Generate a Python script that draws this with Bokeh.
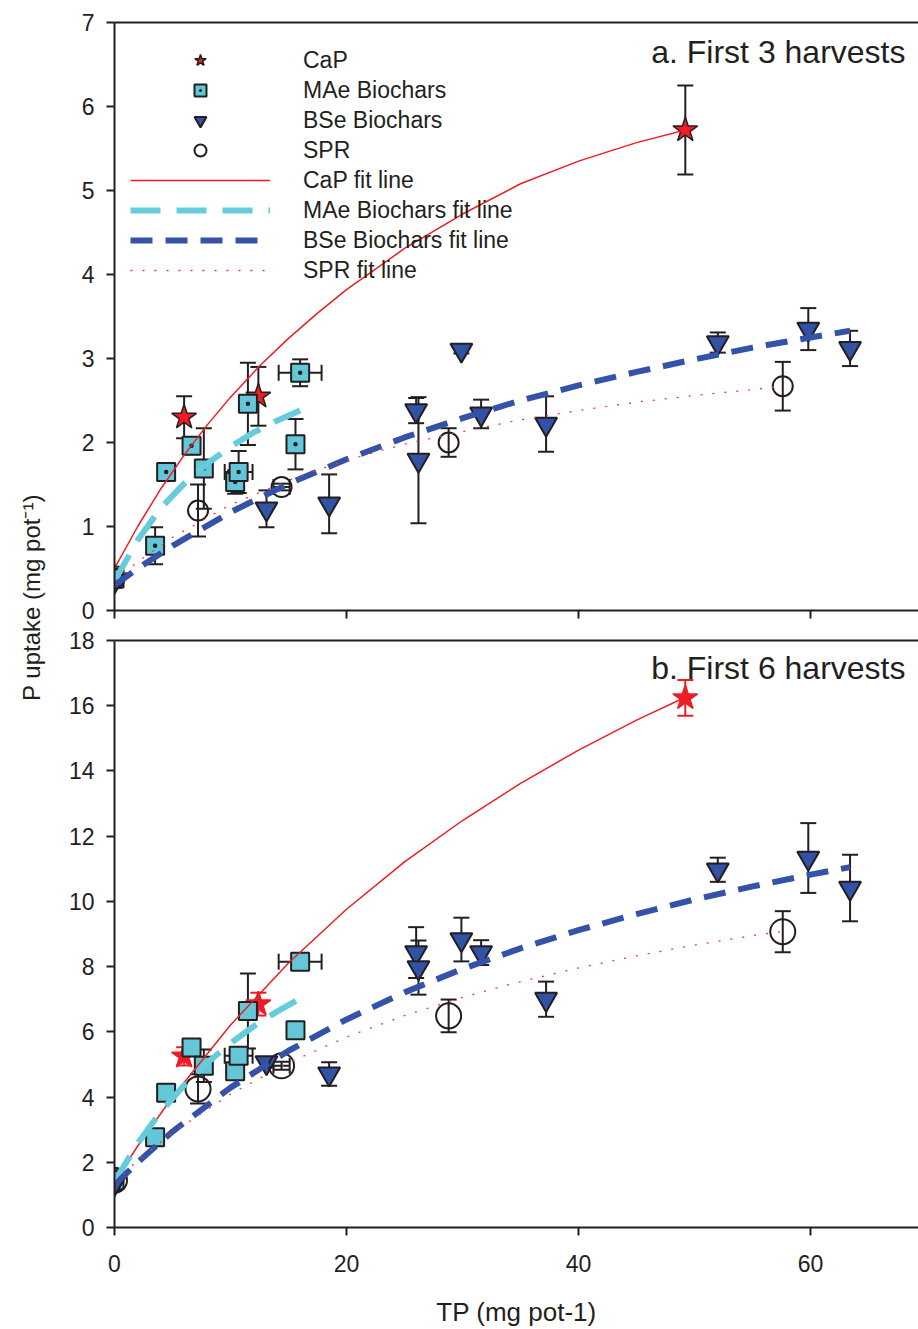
import math
from bokeh.plotting import figure
from bokeh.models import (ColumnDataSource, Whisker, TeeHead, Legend, LegendItem, Label,
                          LinearAxis, FixedTicker, Range1d)
from bokeh.layouts import row, column
from bokeh.embed import file_html
from bokeh.resources import INLINE

FONT = "Liberation Sans"
INK = "#231F20"
RED = "#EE1D25"
CYAN_FILL = "#63C7D8"
BLUE_FILL = "#3152A6"
CYAN_LINE = "#66CCDD"
BLUE_LINE = "#3352A8"

# ---------------- data: panel a (first 3 harvests) ----------------
cap_x = [0, 6.0, 12.4, 49.2]
mae_x = [0, 3.5, 4.45, 6.64, 7.7, 10.4, 10.7, 11.5, 15.6, 16.0]
mae_xerr = [0, 0, 0, 0, 0, 0, 1.2, 0, 0, 1.85]
bse_x = [0, 13.1, 18.5, 26.0, 26.2, 29.9, 31.6, 37.2, 52.0, 59.8, 63.4]
spr_x = [0, 7.2, 14.4, 28.8, 57.6]
spr_xerr = [0, 0, 0.7, 0, 0]

cap_a = [0.40, 2.30, 2.55, 5.72]
cap_a_err = [0.12, 0.25, 0.35, 0.53]
mae_a = [0.38, 0.77, 1.65, 1.96, 1.69, 1.53, 1.65, 2.46, 1.98, 2.83]
mae_a_err = [0.10, 0.22, 0.03, 0.10, 0.48, 0.14, 0.25, 0.49, 0.30, 0.16]
bse_a = [0.35, 1.21, 1.27, 2.38, 1.79, 3.10, 2.34, 2.22, 3.19, 3.35, 3.12]
bse_a_err = [0.08, 0.22, 0.35, 0.15, 0.75, 0.04, 0.17, 0.33, 0.12, 0.25, 0.21]
spr_a = [0.38, 1.19, 1.47, 2.00, 2.67]
spr_a_err = [0.10, 0.31, 0.04, 0.17, 0.29]

cap_fit_x_a = [0, 2, 4, 6, 8, 10, 12.5, 15, 17.5, 20, 25, 30, 35, 40, 45, 49.2]
cap_fit_y_a = [0.50, 1.00, 1.45, 1.85, 2.21, 2.54, 2.91, 3.24, 3.54, 3.82, 4.31, 4.72, 5.08, 5.35, 5.57, 5.72]
mae_fit_x_a = [0, 2, 4, 6, 8, 10, 12, 14, 16]
mae_fit_y_a = [0.35, 0.84, 1.22, 1.51, 1.75, 1.95, 2.12, 2.26, 2.38]
bse_fit_x_a = [0, 2, 5, 10, 15, 20, 25, 30, 35, 40, 45, 50, 55, 60, 63.4]
bse_fit_y_a = [0.30, 0.50, 0.77, 1.17, 1.51, 1.80, 2.06, 2.29, 2.50, 2.68, 2.84, 2.99, 3.13, 3.25, 3.33]
spr_fit_x_a = [0, 2, 5, 10, 15, 20, 25, 30, 35, 40, 45, 50, 55, 57.6]
spr_fit_y_a = [0.35, 0.58, 0.87, 1.26, 1.55, 1.79, 1.98, 2.13, 2.27, 2.38, 2.48, 2.56, 2.63, 2.67]

# ---------------- data: panel b (first 6 harvests) ----------------
cap_b = [1.45, 5.25, 6.85, 16.24]
cap_b_err = [0.30, 0.28, 0.35, 0.55]
mae_b = [1.45, 2.77, 4.13, 5.52, 4.96, 4.79, 5.27, 6.64, 6.05, 8.15]
mae_b_err = [0.30, 0.15, 0.10, 0.20, 0.50, 0.15, 0.25, 1.15, 0.20, 0.20]
bse_b = [1.35, 5.06, 4.71, 8.43, 7.97, 8.83, 8.43, 7.00, 10.97, 11.33, 10.41]
bse_b_err = [0.20, 0.15, 0.36, 0.78, 0.83, 0.67, 0.38, 0.54, 0.37, 1.07, 1.02]
spr_b = [1.45, 4.25, 4.96, 6.49, 9.07]
spr_b_err = [0.30, 0.45, 0.12, 0.50, 0.63]

cap_fit_x_b = [0, 2, 5, 10, 15, 20, 25, 30, 35, 40, 45, 49.2]
cap_fit_y_b = [1.40, 2.50, 4.00, 6.21, 8.11, 9.76, 11.21, 12.48, 13.62, 14.64, 15.56, 16.26]
mae_fit_x_b = [0, 2, 4, 6, 8, 10, 12, 14, 16]
mae_fit_y_b = [1.40, 2.58, 3.55, 4.36, 5.05, 5.65, 6.17, 6.62, 7.02]
bse_fit_x_b = [0, 2, 5, 10, 15, 20, 25, 30, 35, 40, 45, 50, 55, 60, 63.4]
bse_fit_y_b = [1.30, 2.00, 2.94, 4.29, 5.42, 6.38, 7.21, 7.93, 8.56, 9.12, 9.61, 10.06, 10.46, 10.82, 11.05]
spr_fit_x_b = [0, 2, 5, 10, 15, 20, 25, 30, 35, 40, 45, 50, 55, 57.6]
spr_fit_y_b = [1.40, 2.05, 2.91, 4.09, 5.05, 5.84, 6.50, 7.06, 7.54, 7.96, 8.33, 8.66, 8.95, 9.08]

x_ticks = [0, 20, 40, 60]
y_ticks_a = [0, 1, 2, 3, 4, 5, 6, 7]
y_ticks_b = [0, 2, 4, 6, 8, 10, 12, 14, 16, 18]

legend_labels = ["CaP", "MAe Biochars", "BSe Biochars", "SPR",
                 "CaP fit line", "MAe Biochars fit line", "BSe Biochars fit line", "SPR fit line"]
title_a = "a. First 3 harvests"
title_b = "b. First 6 harvests"
x_title = "TP (mg pot-1)"
y_title = "P uptake (mg pot\u207b\u00b9)"


def err_y(p, xs, ys, es, color):
    src = ColumnDataSource(dict(x=xs, lo=[y - e for y, e in zip(ys, es)],
                                hi=[y + e for y, e in zip(ys, es)]))
    w = Whisker(source=src, base="x", upper="hi", lower="lo", line_color=color, line_width=2,
                upper_head=TeeHead(size=16, line_color=color, line_width=2),
                lower_head=TeeHead(size=16, line_color=color, line_width=2))
    p.add_layout(w)


def err_x(p, xs, ys, xe, color):
    sel = [i for i, e in enumerate(xe) if e > 0]
    src = ColumnDataSource(dict(y=[ys[i] for i in sel],
                                lo=[xs[i] - xe[i] for i in sel],
                                hi=[xs[i] + xe[i] for i in sel]))
    w = Whisker(source=src, base="y", upper="hi", lower="lo", dimension="width",
                line_color=color, line_width=2,
                upper_head=TeeHead(size=16, line_color=color, line_width=2),
                lower_head=TeeHead(size=16, line_color=color, line_width=2))
    p.add_layout(w)


def style_axes(p, yticks, show_x_labels):
    p.xaxis.ticker = FixedTicker(ticks=x_ticks)
    p.yaxis.ticker = FixedTicker(ticks=yticks)
    for ax in p.xaxis + p.yaxis:
        ax.axis_line_color = INK
        ax.axis_line_width = 2
        ax.major_tick_line_color = INK
        ax.major_tick_line_width = 2
        ax.major_tick_out = 8
        ax.major_tick_in = 0
        ax.minor_tick_line_color = None
        ax.major_label_text_font = FONT
        ax.major_label_text_font_size = "23px"
        ax.major_label_text_color = INK
    p.yaxis.major_label_standoff = 12
    if show_x_labels:
        p.xaxis.major_label_standoff = 19
        p.xaxis.axis_label = x_title
        p.xaxis.axis_label_text_font = FONT
        p.xaxis.axis_label_text_font_style = "normal"
        p.xaxis.axis_label_text_font_size = "26px"
        p.xaxis.axis_label_text_color = INK
        p.xaxis.axis_label_standoff = 22
    else:
        p.xaxis.major_label_text_color = None
        p.xaxis.major_label_text_font_size = "1px"
        p.xaxis.major_label_standoff = 0
    top = LinearAxis(ticker=FixedTicker(ticks=[]), axis_line_color=INK, axis_line_width=2,
                     major_tick_line_color=None, minor_tick_line_color=None,
                     major_label_text_color=None, major_label_text_font_size="1px",
                     major_label_standoff=0)
    p.add_layout(top, "above")
    p.xgrid.visible = False
    p.ygrid.visible = False
    p.outline_line_color = None


def panel(height, ymax, yticks, border_top, border_bottom, show_x, d, title, title_y):
    p = figure(width=868, height=height, x_range=Range1d(0, 69.3), y_range=Range1d(0, ymax),
               min_border_left=64, min_border_right=0, min_border_top=border_top,
               min_border_bottom=border_bottom, toolbar_location=None, output_backend="svg")
    style_axes(p, yticks, show_x)

    # error bars
    err_y(p, cap_x, d["cap"], d["cap_err"], d["cap_err_color"])
    err_y(p, mae_x, d["mae"], d["mae_err"], INK)
    err_x(p, mae_x, d["mae"], mae_xerr, INK)
    err_y(p, bse_x, d["bse"], d["bse_err"], INK)
    err_y(p, spr_x, d["spr"], d["spr_err"], INK)
    err_x(p, spr_x, d["spr"], spr_xerr, INK)

    r_cap = p.scatter(cap_x, d["cap"], marker="star", size=26, fill_color=RED,
                      line_color=d["cap_line"], line_width=1.5)
    r_mae = p.scatter(mae_x, d["mae"], marker=d["mae_marker"], size=18, fill_color=CYAN_FILL,
                      line_color=INK, line_width=2)
    r_bse = p.scatter(bse_x, d["bse"], marker="inverted_triangle", size=22, fill_color=BLUE_FILL,
                      line_color=INK, line_width=2)
    r_spr = p.scatter(spr_x, d["spr"], marker="circle", size=d["spr_size"], fill_alpha=0,
                      line_color=INK, line_width=2)

    l_cap = p.line(d["cap_fx"], d["cap_fy"], line_color=RED, line_width=1.5)
    l_mae = p.line(d["mae_fx"], d["mae_fy"], line_color=CYAN_LINE, line_width=6, line_dash="30 16")
    l_bse = p.line(d["bse_fx"], d["bse_fy"], line_color=BLUE_LINE, line_width=6, line_dash="22 13")
    l_spr = p.line(d["spr_fx"], d["spr_fy"], line_color="#F03A3A", line_width=1.3, line_dash="2 10")

    p.add_layout(Label(x=791, y=title_y, x_units="screen", y_units="screen", text=title,
                       text_align="right", text_baseline="alphabetic", text_font=FONT,
                       text_font_size="32px", text_color=INK))
    return p, [r_cap, r_mae, r_bse, r_spr, l_cap, l_mae, l_bse, l_spr]


pa, rs = panel(625, 7, y_ticks_a, 22, 15, False, dict(
    cap=cap_a, cap_err=cap_a_err, cap_err_color=INK, cap_line=INK,
    mae=mae_a, mae_err=mae_a_err, mae_marker="square_dot",
    bse=bse_a, bse_err=bse_a_err, spr=spr_a, spr_err=spr_a_err, spr_size=20,
    cap_fx=cap_fit_x_a, cap_fy=cap_fit_y_a, mae_fx=mae_fit_x_a, mae_fy=mae_fit_y_a,
    bse_fx=bse_fit_x_a, bse_fy=bse_fit_y_a, spr_fx=spr_fit_x_a, spr_fy=spr_fit_y_a),
    title_a, 559)

legend = Legend(items=[LegendItem(label=lab, renderers=[r]) for lab, r in zip(legend_labels, rs)],
                location=(16, 325), glyph_width=140, glyph_height=30, label_height=30,
                spacing=0, label_standoff=33, padding=0, margin=0,
                border_line_color=None, background_fill_alpha=0,
                label_text_font=FONT, label_text_font_size="23px", label_text_color=INK)
pa.add_layout(legend)

pb, _ = panel(704, 18, y_ticks_b, 15, 100, True, dict(
    cap=cap_b, cap_err=cap_b_err, cap_err_color=RED, cap_line=RED,
    mae=mae_b, mae_err=mae_b_err, mae_marker="square",
    bse=bse_b, bse_err=bse_b_err, spr=spr_b, spr_err=spr_b_err, spr_size=25,
    cap_fx=cap_fit_x_b, cap_fy=cap_fit_y_b, mae_fx=mae_fit_x_b, mae_fy=mae_fit_y_b,
    bse_fx=bse_fit_x_b, bse_fy=bse_fit_y_b, spr_fx=spr_fit_x_b, spr_fy=spr_fit_y_b),
    title_b, 560)

# y-axis title shared by both panels
pl = figure(width=50, height=1329, x_range=Range1d(0, 50), y_range=Range1d(0, 1329),
            x_axis_type=None, y_axis_type=None, toolbar_location=None, output_backend="svg",
            min_border=0)
pl.outline_line_color = None
pl.xgrid.visible = False
pl.ygrid.visible = False
pl.add_layout(Label(x=31, y=732, text=y_title, angle=math.pi / 2, text_align="center",
                    text_baseline="middle", text_font=FONT, text_font_size="24px",
                    text_color=INK))

layout = row(pl, column(pa, pb))
open("out.html", "w").write(file_html(layout, INLINE, "P uptake"))
